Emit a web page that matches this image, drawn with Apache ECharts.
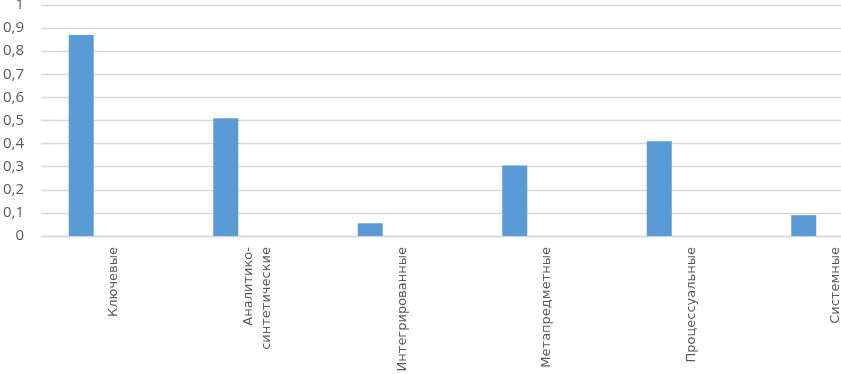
<!DOCTYPE html>
<html>
<head>
<meta charset="utf-8">
<script src="https://cdn.jsdelivr.net/npm/echarts@6/dist/echarts.min.js"></script>
<style>
  html, body { margin: 0; padding: 0; background: #fff; }
  #char { width: 841px; height: 374px; }
</style>
</head>
<body>
<div id="char"></div>
<script>
// категории и значения
const categories = ['Ключевые', 'Аналитико-\nсинтетические', 'Интегрированные', 'Метапредметные', 'Процессуальные', 'Системные'];
const values = [0.87, 0.51, 0.055, 0.305, 0.41, 0.09];
const emptyValues = [null, null, null, null, null, null];

const charEch = echarts.init(document.getElementById('char'));
const option = {
    animation: false,
    grid: {
        left: 41,
        width: 867,
        top: 5,
        bottom: 138,
        outerBoundsMode: 'none'
    },
    xAxis: {
        type: 'category',
        data: categories,
        axisLine: { lineStyle: { color: '#d9d9d9', width: 1.3 } },
        axisTick: { show: false },
        axisLabel: {
            rotate: 90,
            margin: 11,
            color: '#595959',
            fontSize: 13,
            fontFamily: 'DejaVu Sans',
            lineHeight: 18,
            interval: 0
        }
    },
    yAxis: {
        type: 'value',
        min: 0,
        max: 1,
        interval: 0.1,
        axisLine: { show: false },
        axisTick: { show: false },
        splitLine: { lineStyle: { color: '#d9d9d9', width: 1.3 } },
        axisLabel: {
            margin: 17,
            color: '#595959',
            fontSize: 15,
            fontFamily: 'Open Sans',
            formatter: function (v) {
                return String(Math.round(v * 10) / 10).replace('.', ',');
            }
        }
    },
    series: [
        {
            type: 'bar',
            data: values,
            barWidth: 25,
            barGap: '156%',
            itemStyle: { color: '#5b9bd5' }
        },
        {
            type: 'bar',
            data: emptyValues,
            barWidth: 25
        }
    ]
};
charEch.setOption(option, true);
</script>
</body>
</html>
